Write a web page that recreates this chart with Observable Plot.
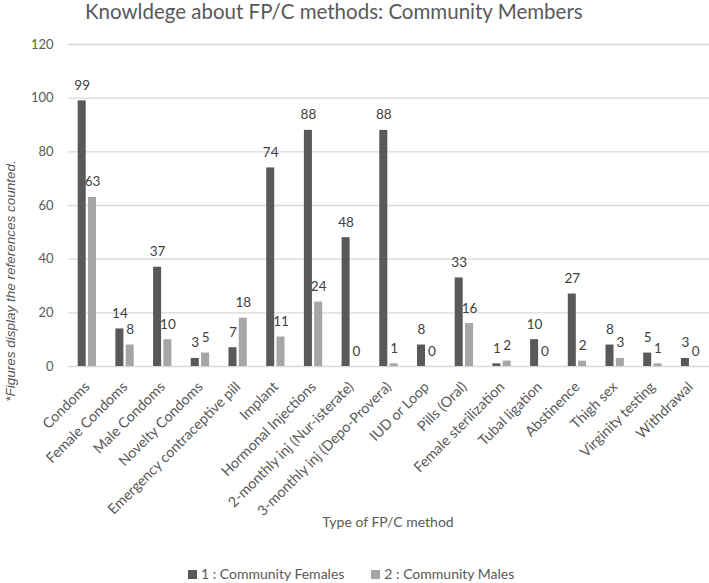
<!DOCTYPE html>
<html>
<head>
<meta charset="utf-8">
<script src="https://cdn.jsdelivr.net/npm/d3@7"></script>
<script src="https://cdn.jsdelivr.net/npm/@observablehq/plot@0.6"></script>
<style>
  html, body { margin: 0; padding: 0; background: #fff; }
  #wrap { position: relative; width: 709px; height: 583px; overflow: hidden; font-family: Lato, sans-serif; color: #595959; }
  #title { position: absolute; left: 85px; top: 0px; font-size: 20.5px; line-height: 1.1; white-space: nowrap; }
  #note { position: absolute; left: 11px; top: 281px; font-family: "Liberation Sans", Arial, sans-serif; font-style: italic; font-size: 13.5px; line-height: 1; white-space: nowrap; transform: translate(-50%, -50%) rotate(-90deg); }
  #xlabel { position: absolute; left: 388px; top: 522px; transform: translate(-50%, -50%); font-size: 14px; line-height: 1; white-space: nowrap; }
  #legend { position: absolute; left: 188px; top: 567px; font-size: 14px; line-height: 1; white-space: nowrap; display: flex; align-items: center; }
  .sw { display: inline-block; width: 9px; height: 9px; margin-right: 4px; }
  #chart { position: absolute; left: 0; top: 0; }
</style>
</head>
<body>
<div id="wrap">
  <div id="chart"></div>
  <div id="title">Knowldege about FP/C methods: Community Members</div>
  <div id="note">*Figures display the references counted.</div>
  <div id="xlabel">Type of FP/C method</div>
  <div id="legend"></div>
</div>
<script>
const categories = [
  "Condoms", "Female Condoms", "Male Condoms", "Novelty Condoms",
  "Emergency contraceptive pill", "Implant", "Hormonal Injections",
  "2-monthly inj (Nur-isterate)", "3-monthly inj (Depo-Provera)",
  "IUD or Loop", "Pills (Oral)", "Female sterilization", "Tubal ligation",
  "Abstinence", "Thigh sex", "Virginity testing", "Withdrawal"
];
const females = [99, 14, 37, 3, 7, 74, 88, 48, 88, 8, 33, 1, 10, 27, 8, 5, 3];
const males   = [63, 8, 10, 5, 18, 11, 24, 0, 1, 0, 16, 2, 0, 2, 3, 1, 0];
const seriesNames = ["1 : Community Females", "2 : Community Males"];
const seriesColors = ["#595959", "#a6a6a6"];
const yTicks = [0, 20, 40, 60, 80, 100, 120];

const femaleData = categories.map((c, i) => ({cat: c, series: seriesNames[0], value: females[i]}));
const maleData = categories.map((c, i) => ({cat: c, series: seriesNames[1], value: males[i]}));

const inset = 10.3;   // each bar ~8px of the ~18.3px group band
const off = 5.15;     // offset of each bar's centre from the band centre

const chart = Plot.plot({
  width: 709,
  height: 583,
  marginLeft: 68,
  marginRight: 0,
  marginTop: 44,
  marginBottom: 217,
  style: {fontFamily: "Lato, sans-serif", fontSize: "13px", color: "#595959", background: "transparent"},
  x: {domain: categories, padding: 0.514, range: [58.3, 718.6], round: false},
  y: {domain: [0, 120]},
  color: {domain: seriesNames, range: seriesColors},
  marks: [
    Plot.ruleY(yTicks, {stroke: "#d9d9d9", strokeWidth: 1.3}),
    Plot.axisY({ticks: yTicks, tickSize: 0, tickPadding: 15, label: null, fontSize: 13}),
    Plot.axisX({tickRotate: -45, tickSize: 0, tickPadding: 18, dx: 0, label: null, fontSize: 14.3}),
    Plot.barY(femaleData, {x: "cat", y: "value", fill: "series", insetRight: inset}),
    Plot.barY(maleData, {x: "cat", y: "value", fill: "series", insetLeft: inset}),
    Plot.text(femaleData, {x: "cat", y: "value", text: d => String(d.value), dx: -off, dy: -11, lineAnchor: "bottom", fill: "#404040", fontSize: 13.5}),
    Plot.text(maleData, {x: "cat", y: "value", text: d => String(d.value), dx: off, dy: -11, lineAnchor: "bottom", fill: "#404040", fontSize: 13.5})
  ]
});
document.getElementById("chart").appendChild(chart);

const legend = document.getElementById("legend");
seriesNames.forEach((name, i) => {
  const item = document.createElement("span");
  item.style.display = "inline-flex";
  item.style.alignItems = "center";
  item.style.marginRight = i === 0 ? "27px" : "0";
  const sw = document.createElement("span");
  sw.className = "sw";
  sw.style.background = seriesColors[i];
  item.appendChild(sw);
  item.appendChild(document.createTextNode(name));
  legend.appendChild(item);
});
</script>
</body>
</html>
